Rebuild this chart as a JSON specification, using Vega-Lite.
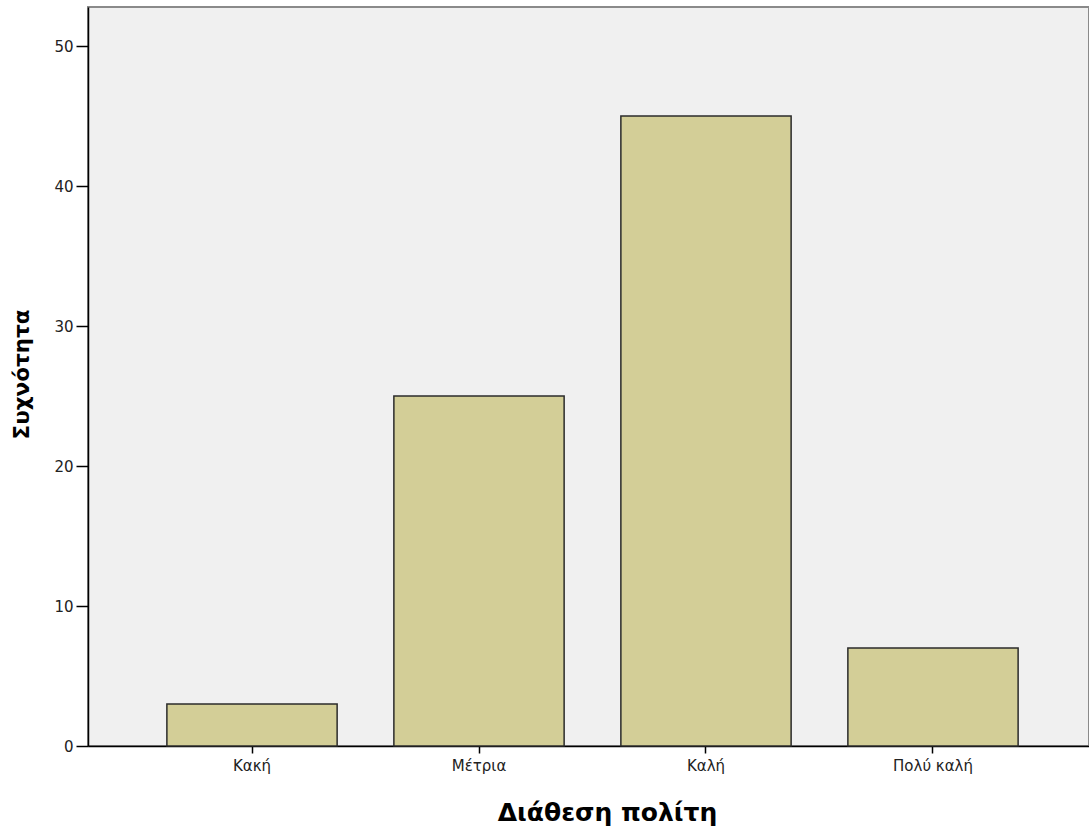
{
  "$schema": "https://vega.github.io/schema/vega-lite/v6.json",
  "autosize": {"type": "none"},
  "padding": {"left": 88, "top": 7, "right": 0, "bottom": 84},
  "width": 1001,
  "height": 739,
  "background": "#ffffff",
  "config": {
    "view": {"fill": "#f0f0f0", "stroke": "#8a8a8a", "strokeWidth": 2},
    "font": "DejaVu Sans"
  },
  "data": {
    "values": [
      {"category": "Κακή", "count": 3},
      {"category": "Μέτρια", "count": 25},
      {"category": "Καλή", "count": 45},
      {"category": "Πολύ καλή", "count": 7}
    ]
  },
  "mark": {"type": "bar", "fill": "#d3ce97", "stroke": "#2b2b2b", "strokeWidth": 1.5},
  "encoding": {
    "x": {
      "field": "category",
      "type": "nominal",
      "sort": null,
      "scale": {"range": [0, 1009], "paddingInner": 0.25, "paddingOuter": 0.3475},
      "axis": {
        "title": "Διάθεση πολίτη",
        "titleFont": "DejaVu Sans",
        "titleFontSize": 25,
        "titleFontWeight": "bold",
        "titleColor": "#000000",
        "titleX": 519,
        "titleY": 54,
        "labelAngle": 0,
        "labelFont": "DejaVu Sans",
        "labelFontSize": 15,
        "labelColor": "#222222",
        "labelPadding": 5,
        "domainColor": "#000000",
        "domainWidth": 1.5,
        "tickColor": "#000000",
        "tickSize": 7,
        "tickWidth": 1.5
      }
    },
    "y": {
      "field": "count",
      "type": "quantitative",
      "scale": {"domain": [0, 52.786], "nice": false, "zero": true},
      "axis": {
        "title": "Συχνότητα",
        "titleFont": "DejaVu Sans",
        "titleFontSize": 21.5,
        "titleFontWeight": "bold",
        "titleColor": "#000000",
        "titleX": -55,
        "titleY": 367,
        "values": [0, 10, 20, 30, 40, 50],
        "grid": false,
        "labelFont": "DejaVu Sans",
        "labelFontSize": 15,
        "labelColor": "#222222",
        "labelPadding": 3,
        "domainColor": "#000000",
        "domainWidth": 1.5,
        "tickColor": "#000000",
        "tickSize": 12,
        "tickWidth": 1.5
      }
    }
  }
}
